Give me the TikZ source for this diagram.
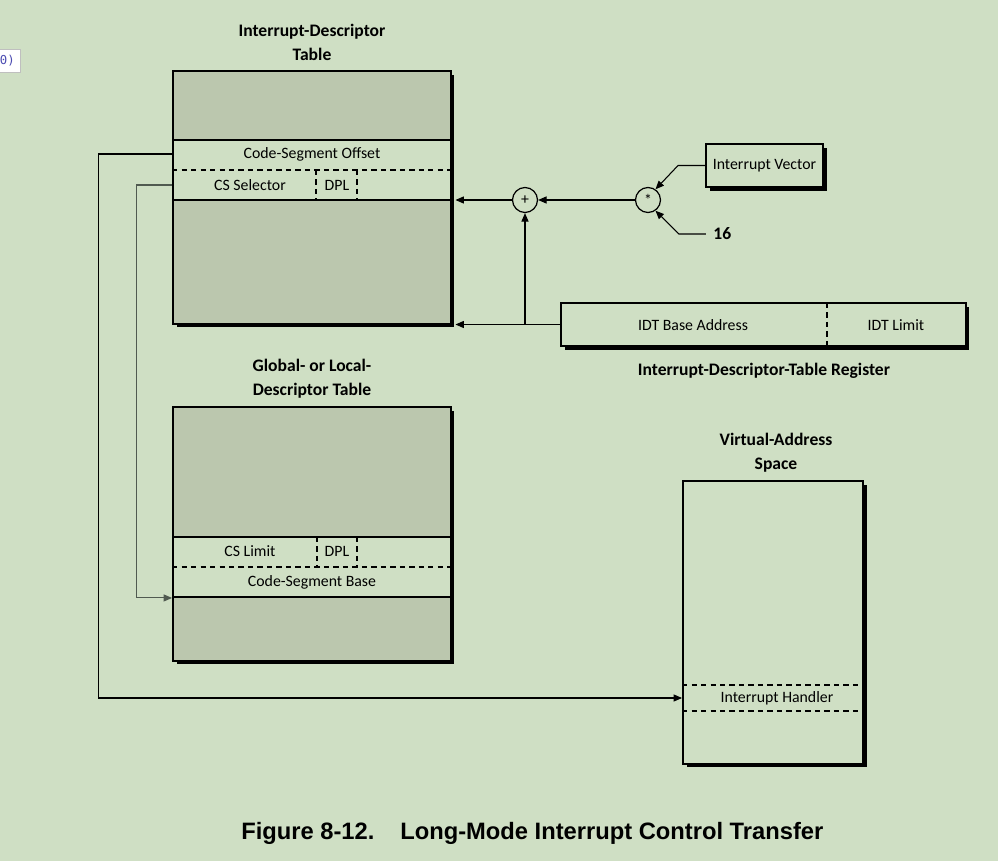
\documentclass[tikz,border=0pt]{standalone}
\usepackage{fontspec}
\setmainfont{Carlito}
\newfontfamily\capfont{Liberation Sans}
\newfontfamily\tagfont{DejaVu Sans Mono}
\usepackage{tikz}
\usetikzlibrary{arrows.meta, shadows, positioning}

\definecolor{pagebg}{RGB}{207,223,196}
\definecolor{tablefill}{RGB}{187,199,174}
\definecolor{selline}{RGB}{80,90,80}

\tikzset{
  boxshadow/.style={drop shadow={shadow xshift=2pt, shadow yshift=-2pt, fill=black, opacity=1}},
  tablebox/.style={draw, line width=1.1pt, fill=tablefill, boxshadow, minimum width=5.56cm, inner sep=0pt},
  entrybox/.style={draw, line width=1.1pt, fill=pagebg, minimum width=5.56cm, minimum height=1.2cm, inner sep=0pt},
  plainbox/.style={draw, line width=1.1pt, fill=pagebg, boxshadow, inner sep=0pt},
  title/.style={align=center, font=\fontsize{10}{13.6}\selectfont\bfseries},
  label/.style={font=\fontsize{9}{11}\selectfont, inner sep=1pt},
  opnode/.style={circle, draw, line width=0.7pt, minimum size=0.5cm, inner sep=0pt, font=\fontsize{9}{9}\selectfont},
  arrow/.style={-{Triangle[length=4.8pt, width=4pt]}, line width=0.6pt},
  sep/.style={dash pattern=on 3pt off 2.4pt, line width=0.6pt},
  caption/.style={anchor=west, inner sep=0pt, font=\capfont\bfseries\fontsize{13.5}{16}\selectfont}
}

\begin{document}
\begin{tikzpicture}[x=0.02cm, y=-0.02cm]
  \useasboundingbox[fill=pagebg] (0,0) rectangle (998,861);

  % leftover tag at the page edge
  \node[draw=gray!50, fill=white, anchor=east, font=\tagfont\fontsize{7}{7}\selectfont, text=blue!40!gray, minimum height=0.46cm] (tag) at (21,61) {0)};

  % interrupt-descriptor table
  \node[title] (idttitle) at (312,42) {Interrupt-Descriptor\\Table};
  \node[tablebox, minimum height=5.06cm] (idt) at (312,197.5) {};
  \node[entrybox] (idtent) at (312,170) {};
  \draw[sep] (idtent.west) -- (idtent.east);
  \draw[sep] (316,170) -- (316,200);
  \draw[sep] (357,170) -- (357,200);
  \node[label] (offtxt) at (312,154) {Code-Segment Offset};
  \node[label] (seltxt) at (250,185) {CS Selector};
  \node[label] (idtdpl) at (337,185) {DPL};

  % global or local descriptor table
  \node[title] (gdttitle) at (312,379) {Global- or Local-\\Descriptor Table};
  \node[tablebox, minimum height=5.08cm] (gdt) at (312,534) {};
  \node[entrybox] (gdtent) at (312,567) {};
  \draw[sep] (gdtent.west) -- (gdtent.east);
  \draw[sep] (317,537) -- (317,567);
  \draw[sep] (357,537) -- (357,567);
  \node[label] (limtxt) at (250,551) {CS Limit};
  \node[label] (gdtdpl) at (337,551) {DPL};
  \node[label] (basetxt) at (312,582) {Code-Segment Base};

  % virtual address space
  \node[title] (vastitle) at (776,453) {Virtual-Address\\Space};
  \node[plainbox, minimum width=3.6cm, minimum height=5.66cm] (vas) at (773,622.5) {};
  \draw[sep] (vas.west |- 0,685) -- (vas.east |- 0,685);
  \draw[sep] (vas.west |- 0,711) -- (vas.east |- 0,711);
  \node[label] (handler) at (777,698) {Interrupt Handler};

  % idt register
  \node[plainbox, minimum width=8.1cm, minimum height=0.86cm] (idtr) at (763.5,324.5) {};
  \draw[sep] (827,303) -- (827,346);
  \node[label] (basead) at (693,325) {IDT Base Address};
  \node[label] (limit) at (896,325) {IDT Limit};
  \node[title] (idtrtitle) at (764,371) {Interrupt-Descriptor-Table Register};

  % vector scaling
  \node[plainbox, minimum width=2.34cm, minimum height=0.86cm, font=\fontsize{9}{11}\selectfont] (ivec) at (764.5,165.5) {Interrupt Vector};
  \node[opnode] (plus) at (525,200) {+};
  \node[opnode] (star) at (648,200) {*};
  \node[title, anchor=west, inner sep=0pt] (sixteen) at (713,234) {16};

  \draw[arrow] (ivec.west) -- ++(-27,0) -- (star.55);
  \draw[arrow] ([xshift=-4pt]sixteen.west) -- ++(-27,0) -- (star.-55);
  \draw[arrow] (star) -- (plus);
  \draw[arrow] (plus) -- ([xshift=2pt]idt.east |- plus);
  \draw[arrow] (idtr.west) -- ([xshift=2pt]idt.east |- idtr.west);
  \draw[arrow] (plus |- idtr.west) -- (plus);

  % selectors and offset
  \draw[arrow] (offtxt -| idt.west) -- ++(-74,0) |- (handler -| vas.west);
  \draw[arrow, draw=selline] (seltxt -| idt.west) -- ++(-36,0) |- (gdtent.south west);

  % caption
  \node[caption] (fignum) at (241,833) {Figure 8-12.};
  \node[caption] (figtitle) at (400,833) {Long-Mode Interrupt Control Transfer};
\end{tikzpicture}
\end{document}
